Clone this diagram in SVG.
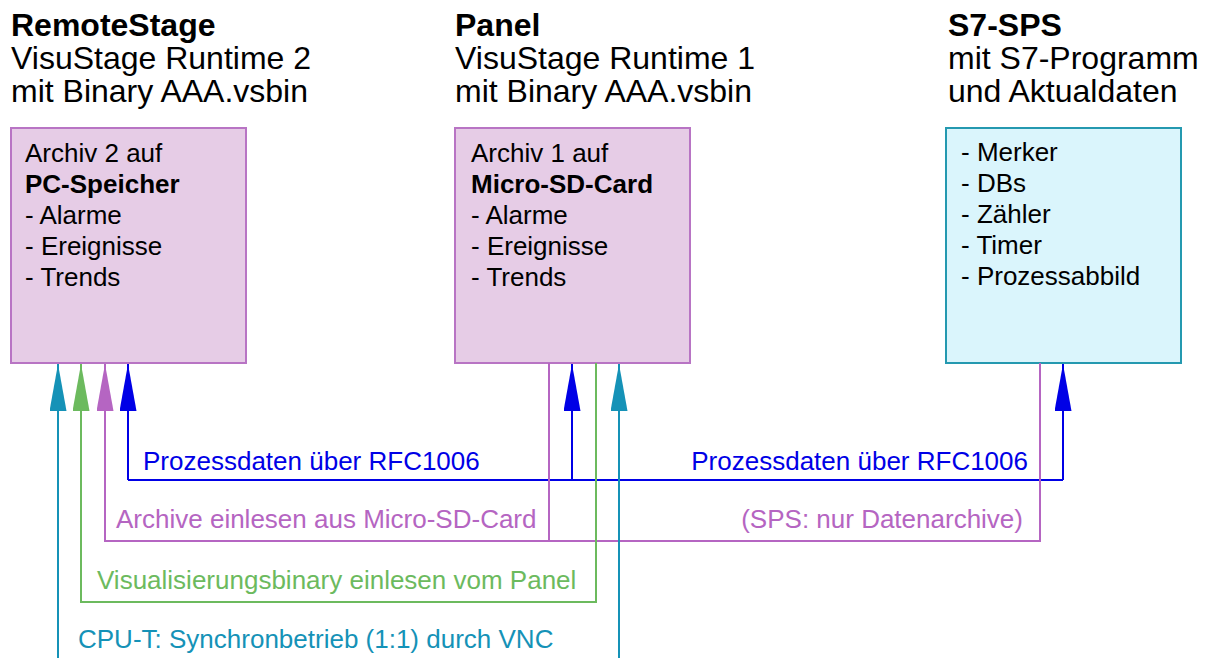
<svg xmlns="http://www.w3.org/2000/svg" width="1212" height="658" viewBox="0 0 1212 658">
<style>
text{font-family:"Liberation Sans",Arial,sans-serif;fill:#000}
.h{font-size:32px}
.hb{font-weight:bold}
.b{font-size:26px}
.l{font-size:26px}
.boxp{fill:#e6cce6;stroke:#b874c4;stroke-width:2}
.boxc{fill:#daf5fc;stroke:#2499b0;stroke-width:2}
.c{fill:none;stroke-width:2}
.blue{stroke:#0000e6}
.purp{stroke:#b565c2}
.green{stroke:#6cba5e}
.teal{stroke:#1592b7}
.tb{fill:#0000e6}
.tp{fill:#b565c2}
.tg{fill:#6cba5e}
.tt{fill:#1592b7}
</style>
<defs>
<marker id="aBlue" viewBox="0 0 47 17" refX="47" refY="8.5" markerWidth="47" markerHeight="17" orient="auto" markerUnits="userSpaceOnUse"><path d="M0,0 L47,8.5 L0,17 z" fill="#0000e6"/></marker>
<marker id="aPurp" viewBox="0 0 47 17" refX="47" refY="8.5" markerWidth="47" markerHeight="17" orient="auto" markerUnits="userSpaceOnUse"><path d="M0,0 L47,8.5 L0,17 z" fill="#b565c2"/></marker>
<marker id="aGreen" viewBox="0 0 47 17" refX="47" refY="8.5" markerWidth="47" markerHeight="17" orient="auto" markerUnits="userSpaceOnUse"><path d="M0,0 L47,8.5 L0,17 z" fill="#6cba5e"/></marker>
<marker id="aTeal" viewBox="0 0 47 17" refX="47" refY="8.5" markerWidth="47" markerHeight="17" orient="auto" markerUnits="userSpaceOnUse"><path d="M0,0 L47,8.5 L0,17 z" fill="#1592b7"/></marker>
</defs>
<rect width="1212" height="658" fill="#fff"/>

<g id="remotestage">
<text class="h" x="11" y="36"><tspan class="hb">RemoteStage</tspan><tspan x="11" y="69">VisuStage Runtime 2</tspan><tspan x="11" y="102">mit Binary AAA.vsbin</tspan></text>
<rect class="boxp" x="11" y="128" width="235" height="235"/>
<text class="b" x="25" y="162">Archiv 2 auf<tspan x="25" y="193" font-weight="bold">PC-Speicher</tspan><tspan x="25" y="224">- Alarme</tspan><tspan x="25" y="255">- Ereignisse</tspan><tspan x="25" y="286">- Trends</tspan></text>
</g>

<g id="panel">
<text class="h" x="455" y="36"><tspan class="hb">Panel</tspan><tspan x="455" y="69">VisuStage Runtime 1</tspan><tspan x="455" y="102">mit Binary AAA.vsbin</tspan></text>
<rect class="boxp" x="455" y="128" width="235" height="235"/>
<text class="b" x="471" y="162">Archiv 1 auf<tspan x="471" y="193" font-weight="bold">Micro-SD-Card</tspan><tspan x="471" y="224">- Alarme</tspan><tspan x="471" y="255">- Ereignisse</tspan><tspan x="471" y="286">- Trends</tspan></text>
</g>

<g id="s7sps">
<text class="h" x="948" y="36"><tspan class="hb">S7-SPS</tspan><tspan x="948" y="69">mit S7-Programm</tspan><tspan x="948" y="102">und Aktualdaten</tspan></text>
<rect class="boxc" x="946" y="128" width="235" height="235"/>
<text class="b" x="961" y="161">- Merker<tspan x="961" y="192">- DBs</tspan><tspan x="961" y="223">- Zähler</tspan><tspan x="961" y="254">- Timer</tspan><tspan x="961" y="285">- Prozessabbild</tspan></text>
</g>

<g id="connectors">
<path class="c blue" d="M128,480 H1063"/>
<path class="c blue" d="M128,480 V364" marker-end="url(#aBlue)"/>
<path class="c blue" d="M572,480 V364" marker-end="url(#aBlue)"/>
<path class="c blue" d="M1063,480 V364" marker-end="url(#aBlue)"/>
<path class="c purp" d="M549,363 V541 H1040 V363"/>
<path class="c purp" d="M549,541 H105 V364" marker-end="url(#aPurp)"/>
<path class="c green" d="M596,363 V602 H81 V364" marker-end="url(#aGreen)"/>
<path class="c teal" d="M58,658 V364" marker-end="url(#aTeal)"/>
<path class="c teal" d="M619,658 V364" marker-end="url(#aTeal)"/>
<text class="l tb" x="143" y="470">Prozessdaten über RFC1006</text>
<text class="l tb" x="1028" y="470" text-anchor="end">Prozessdaten über RFC1006</text>
<text class="l tp" x="116" y="528">Archive einlesen aus Micro-SD-Card</text>
<text class="l tp" x="1023" y="528" text-anchor="end">(SPS: nur Datenarchive)</text>
<text class="l tg" x="97" y="589">Visualisierungsbinary einlesen vom Panel</text>
<text class="l tt" x="78" y="648">CPU-T: Synchronbetrieb (1:1) durch VNC</text>
</g>
</svg>
